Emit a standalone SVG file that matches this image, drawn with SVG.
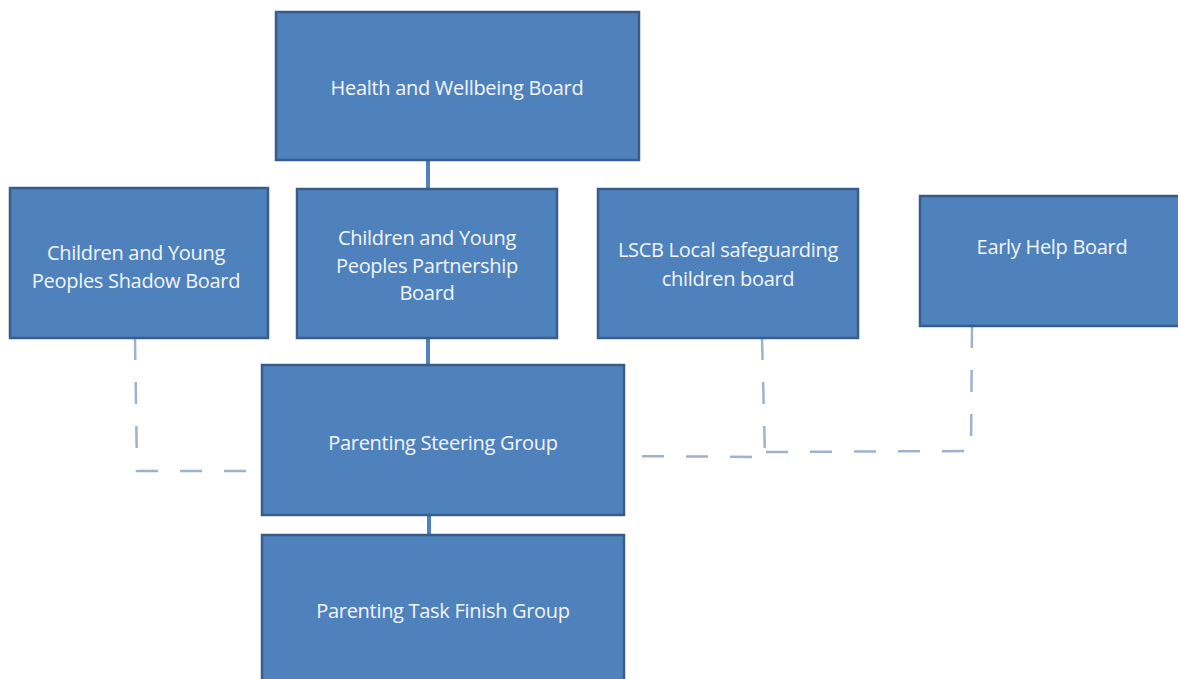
<svg xmlns="http://www.w3.org/2000/svg" width="1178" height="679" viewBox="0 0 1178 679">
<style>
.box{fill:#4F81BD;stroke:#385D8A;stroke-width:2.5}
.t{font-family:"Open Sans","Liberation Sans",sans-serif;font-size:20px;letter-spacing:-0.3px;fill:#F2F6FB;text-anchor:middle;dominant-baseline:central}
.solid{stroke:#4F81BD;stroke-width:4;fill:none}
.dash{stroke:#9FB2CC;stroke-width:2.5;fill:none;stroke-dasharray:22,22}
</style>
<rect width="1178" height="679" fill="#ffffff"/>
<g id="connectors">
<line class="solid" x1="428" y1="160" x2="428" y2="189"/>
<line class="solid" x1="428" y1="338" x2="428" y2="365"/>
<line class="solid" x1="429" y1="515" x2="429" y2="535"/>
<polyline class="dash" points="135,338 137,471 262,471"/>
<polyline class="dash" points="762,338 765,457 624,456"/>
<polyline class="dash" points="972,326 971,451 766,452"/>
</g>
<g id="health"><rect class="box" x="276" y="12" width="363" height="148"/><text class="t" x="457" y="87">Health and Wellbeing Board</text></g>
<g id="shadow"><rect class="box" x="10" y="188" width="258" height="150"/><text class="t" x="136" y="252">Children and Young</text><text class="t" x="136" y="280">Peoples Shadow Board</text></g>
<g id="partnership"><rect class="box" x="297" y="189" width="260" height="149"/><text class="t" x="427" y="237">Children and Young</text><text class="t" x="427" y="265">Peoples Partnership</text><text class="t" x="427" y="292">Board</text></g>
<g id="lscb"><rect class="box" x="598" y="189" width="260" height="149"/><text class="t" x="728" y="249">LSCB Local safeguarding</text><text class="t" x="728" y="278">children board</text></g>
<g id="earlyhelp"><rect class="box" x="920" y="196" width="262" height="130"/><text class="t" x="1052" y="246">Early Help Board</text></g>
<g id="steering"><rect class="box" x="262" y="365" width="362" height="150"/><text class="t" x="443" y="442">Parenting Steering Group</text></g>
<g id="taskfinish"><rect class="box" x="262" y="535" width="362" height="150"/><text class="t" x="443" y="610">Parenting Task Finish Group</text></g>
</svg>
